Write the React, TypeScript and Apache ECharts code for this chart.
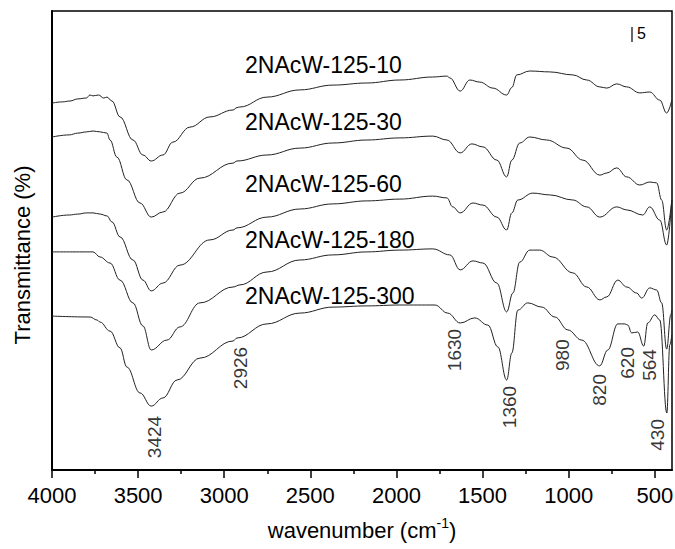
import React, { useEffect, useRef } from 'react';
import * as echarts from 'echarts';

const FONT = '"Liberation Sans", Arial, Helvetica, sans-serif';

const seriesNames = ['2NAcW-125-10', '2NAcW-125-30', '2NAcW-125-60', '2NAcW-125-180', '2NAcW-125-300'];

// [wavenumber (cm-1), transmittance (a.u., offset)]
const s10: [number, number][] = [
  [4000, 122.3], [3940, 122.7], [3896, 123.0], [3850, 123.7], [3800, 124.0], [3780, 125.0], [3762, 124.7],
  [3730, 125.0], [3700, 124.0], [3681, 124.3], [3652, 123.0], [3605, 117.7], [3530, 110.0], [3472, 105.0],
  [3424, 103.0], [3356, 105.0], [3298, 109.3], [3199, 114.3], [3083, 117.7], [2949, 120.0], [2926, 120.8],
  [2909, 121.0], [2752, 124.3], [2561, 126.7], [2369, 128.3], [2172, 129.0], [1980, 130.0], [1789, 131.0],
  [1707, 131.3], [1690, 130.7], [1630, 126.3], [1574, 130.0], [1516, 129.3], [1440, 127.3], [1360, 125.0],
  [1330, 127.5], [1301, 131.7], [1226, 133.0], [1110, 132.7], [976, 131.7], [895, 130.0], [819, 127.7],
  [779, 127.3], [721, 128.7], [663, 127.7], [587, 125.7], [529, 126.0], [471, 123.3], [431, 119.0], [401, 123.3],
];

const s30: [number, number][] = [
  [4000, 111.0], [3900, 111.7], [3850, 112.3], [3800, 112.7], [3762, 113.0], [3720, 112.7], [3681, 112.3],
  [3663, 110.0], [3623, 104.3], [3565, 96.7], [3489, 89.0], [3424, 84.3], [3356, 86.0], [3257, 92.3],
  [3141, 97.3], [2949, 102.3], [2926, 103.0], [2752, 105.0], [2561, 107.3], [2369, 109.0], [2172, 110.0],
  [1980, 110.7], [1789, 111.3], [1707, 110.0], [1630, 105.7], [1562, 108.7], [1498, 107.7], [1417, 103.3],
  [1360, 97.7], [1330, 103.3], [1284, 109.0], [1226, 111.0], [1127, 110.0], [1011, 107.3], [918, 103.3],
  [819, 98.3], [779, 99.0], [721, 100.7], [663, 97.7], [587, 95.0], [529, 96.0], [489, 95.7], [460, 90.0],
  [431, 80.0], [401, 90.0],
];

const s60: [number, number][] = [
  [4000, 84.3], [3900, 85.0], [3850, 85.3], [3800, 85.7], [3762, 85.7], [3720, 85.3], [3681, 84.7],
  [3652, 82.7], [3605, 77.7], [3530, 70.0], [3472, 63.3], [3424, 59.7], [3356, 62.3], [3257, 68.3],
  [3083, 76.7], [2949, 80.0], [2926, 80.7], [2752, 84.3], [2561, 87.0], [2369, 88.7], [2172, 89.7],
  [1980, 90.3], [1789, 91.3], [1707, 90.7], [1673, 87.7], [1630, 85.7], [1556, 89.0], [1498, 88.3],
  [1417, 84.3], [1360, 80.0], [1330, 85.7], [1295, 90.0], [1208, 92.3], [1110, 91.7], [976, 90.0],
  [895, 87.7], [819, 84.3], [721, 87.7], [663, 86.7], [570, 85.0], [529, 87.7], [471, 83.3], [431, 75.0],
  [401, 90.0],
];

const s180: [number, number][] = [
  [4000, 72.7], [3762, 72.7], [3721, 71.0], [3663, 69.0], [3605, 63.3], [3530, 55.7], [3472, 48.0],
  [3424, 40.0], [3333, 43.3], [3257, 47.7], [3141, 55.7], [2949, 61.0], [2909, 61.7], [2752, 66.0],
  [2561, 70.0], [2369, 71.7], [2172, 72.7], [1980, 73.3], [1789, 73.7], [1690, 71.7], [1630, 66.7],
  [1556, 69.7], [1498, 69.0], [1417, 62.3], [1360, 52.7], [1324, 59.0], [1284, 69.3], [1226, 73.3],
  [1168, 73.3], [1092, 71.0], [976, 65.7], [895, 61.0], [819, 56.7], [779, 57.7], [715, 63.3], [663, 61.0],
  [605, 59.0], [576, 57.3], [529, 60.7], [489, 60.0], [460, 55.7], [431, 40.3], [407, 51.7], [401, 53.3],
];

const s300: [number, number][] = [
  [4000, 51.3], [3779, 51.0], [3739, 50.0], [3721, 49.3], [3663, 46.3], [3605, 40.7], [3565, 34.3],
  [3489, 25.7], [3424, 21.3], [3356, 24.0], [3274, 30.0], [3141, 37.3], [2949, 43.0], [2926, 44.0],
  [2752, 48.7], [2561, 52.3], [2369, 54.3], [2172, 54.7], [1980, 55.0], [1777, 55.0], [1702, 52.3],
  [1630, 49.0], [1545, 50.7], [1469, 48.3], [1411, 41.0], [1360, 30.0], [1330, 39.0], [1295, 53.3],
  [1237, 55.7], [1156, 54.3], [1080, 51.0], [1005, 46.7], [924, 43.3], [820, 34.7], [773, 40.0],
  [715, 48.7], [674, 48.7], [657, 48.3], [634, 45.7], [599, 46.0], [564, 41.3], [541, 49.0], [500, 51.7],
  [471, 50.0], [430, 19.0], [413, 41.7], [401, 45.0],
];

const seriesData = [s10, s30, s60, s180, s300];

const majorTicks = [500, 1000, 1500, 2000, 2500, 3000, 3500, 4000];
const minorTicks = [750, 1250, 1750, 2250, 2750, 3250, 3750];

const peakNames = ['3424', '2926', '1630', '1360', '980', '820', '620', '564', '430'];

// layout: label centres in axis units
const peakLabelPos: [number, number][] = [
  [3402, 11.0], [2903, 34.0], [1661, 40.0], [1342, 21.0], [1034, 38.3], [819, 26.7], [657, 35.7], [529, 35.0], [483, 11.7],
];
// layout: series label positions in px
const seriesLabelX = 245;
const seriesLabelY = [65, 122, 184, 240, 296];

export default function App() {
  const ref = useRef<HTMLDivElement>(null);
  useEffect(() => {
    if (!ref.current) return;
    const chart = echarts.init(ref.current, undefined, { renderer: 'svg' });
    const lineSeries = seriesData.map((d, i) => ({
      name: seriesNames[i],
      type: 'line',
      data: d,
      showSymbol: false,
      smooth: 0.4,
      smoothMonotone: 'x',
      lineStyle: { color: '#222', width: 1 },
      silent: true,
      z: 3,
    }));
    const option: any = {
      animation: false,
      backgroundColor: '#fff',
      grid: {
        left: 52, right: 3, top: 11, bottom: 79, containLabel: false, outerBoundsMode: 'none',
        show: true, borderColor: '#000', borderWidth: 1.5, backgroundColor: 'transparent',
      },
      xAxis: [
        {
          type: 'value', min: 400, max: 4000, inverse: true, position: 'bottom',
          axisLine: { show: true, onZero: false, lineStyle: { color: '#000', width: 2 } },
          axisTick: { show: true, customValues: majorTicks, length: 8, lineStyle: { color: '#000', width: 1.5 } },
          axisLabel: {
            show: true, customValues: majorTicks, fontSize: 22, fontFamily: FONT, color: '#000', margin: 14,
            formatter: (v: number) => String(v),
          },
          splitLine: { show: false },
          name: '{a|wavenumber (cm}{b|-1}{a|)}',
          nameLocation: 'middle',
          nameGap: 46,
          nameTextStyle: {
            rich: {
              a: { fontSize: 22, fontFamily: FONT, color: '#000', lineHeight: 28 },
              b: { fontSize: 14, fontFamily: FONT, color: '#000', verticalAlign: 'top', lineHeight: 16 },
            },
          },
        },
        {
          type: 'value', min: 400, max: 4000, inverse: true, position: 'bottom',
          axisLine: { show: false },
          axisTick: { show: true, customValues: minorTicks, length: 4, lineStyle: { color: '#000', width: 1.5 } },
          axisLabel: { show: false },
          splitLine: { show: false },
        },
      ],
      yAxis: {
        type: 'value', min: 0, max: 153,
        axisLine: { show: true, lineStyle: { color: '#000', width: 2 } },
        axisTick: { show: false },
        axisLabel: { show: false },
        splitLine: { show: false },
      },
      series: [
        ...lineSeries,
        {
          type: 'scatter',
          symbolSize: 0,
          silent: true,
          data: peakNames.map((n, i) => ({ name: n, value: peakLabelPos[i] })),
          label: {
            show: true,
            position: 'inside',
            rotate: 90,
            formatter: (p: any) => p.name,
            fontSize: 19,
            fontFamily: FONT,
            color: '#000',
          },
          z: 4,
        },
      ],
      graphic: [
        {
          type: 'text', x: 22, y: 255, rotation: Math.PI / 2,
          style: { text: 'Transmittance (%)', fontSize: 22, fontFamily: FONT, fill: '#000', align: 'center', verticalAlign: 'middle' },
        },
        ...seriesNames.map((n, i) => ({
          type: 'text', x: seriesLabelX, y: seriesLabelY[i],
          style: { text: n, fontSize: 23, fontFamily: FONT, fill: '#000', align: 'left', verticalAlign: 'middle' },
        })),
        {
          type: 'line', shape: { x1: 632, y1: 27, x2: 632, y2: 42 },
          style: { stroke: '#000', lineWidth: 1.2 },
        },
        {
          type: 'text', x: 637, y: 33,
          style: { text: '5', fontSize: 16, fontFamily: FONT, fill: '#000', align: 'left', verticalAlign: 'middle' },
        },
      ],
    };
    chart.setOption(option);
    return () => chart.dispose();
  }, []);
  return <div ref={ref} style={{ position: 'absolute', left: 0, top: 0, width: 675, height: 549 }} />;
}
